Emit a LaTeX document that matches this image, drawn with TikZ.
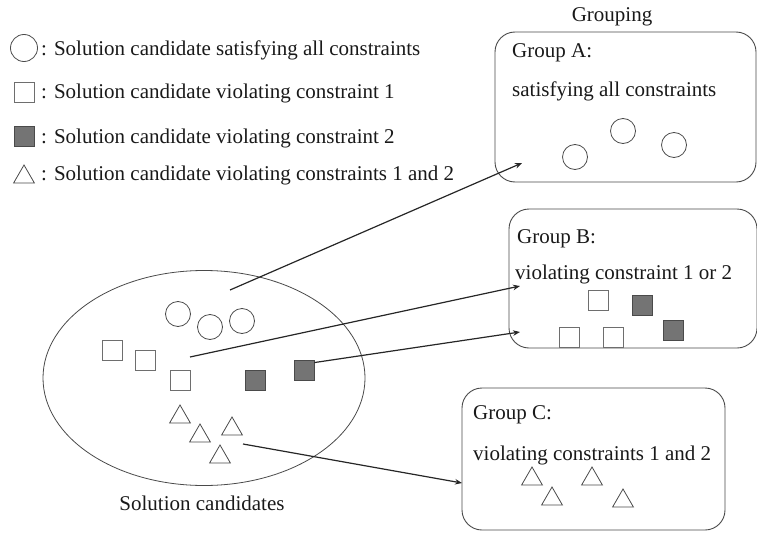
\documentclass[tikz,border=0pt]{standalone}
\usepackage{fontspec}
\setmainfont{Liberation Serif}
\usetikzlibrary{shapes.geometric,arrows.meta}
\definecolor{ln}{HTML}{4A4A4A}
\definecolor{fillg}{HTML}{747474}
\tikzset{
  txt/.style={anchor=base west,inner sep=0pt,font=\fontsize{21}{24}\selectfont,text=black!90},
  circ/.style={circle,draw=ln,line width=0.8pt,minimum size=25pt,inner sep=0pt},
  sq/.style={rectangle,draw=ln!80,line width=0.9pt,minimum size=20pt,inner sep=0pt,fill=white},
  fsq/.style={rectangle,draw=ln,line width=0.9pt,minimum size=20pt,inner sep=0pt,fill=fillg},
  tri/.style={regular polygon,regular polygon sides=3,draw=ln,line width=0.8pt,minimum size=24pt,inner sep=0pt},
  grp/.style={draw=ln,line width=0.9pt,rounded corners=20pt},
  arr/.style={draw=black!85,line width=1.2pt,-{Stealth[length=7pt,width=5.5pt]}}
}
\begin{document}
\begin{tikzpicture}[x=1pt,y=-1pt]
\useasboundingbox (0,0) rectangle (757,535);
% legend
\node[circ,minimum width=24pt,minimum height=27pt] (lc) at (24,48) {};
\node[txt] (lt1) at (41,56) {: Solution candidate satisfying all constraints};
\node[sq] (ls) at (24,92) {};
\node[txt] (lt2) at (41,98) {: Solution candidate violating constraint 1};
\node[fsq] (lf) at (24,136) {};
\node[txt] (lt3) at (41,143) {: Solution candidate violating constraint 2};
\node[tri] (lr) at (24,177) {};
\node[txt] (lt4) at (41,180) {: Solution candidate violating constraints 1 and 2};
% grouping title
\node[txt,anchor=base] (gt) at (612,22) {Grouping};
% Group A
\draw[grp] (495,32) rectangle (756,182);
\node[txt] (ga1) at (512,57) {Group A:};
\node[txt] (ga2) at (512,96) {satisfying all constraints};
\node[circ] (a1) at (575,157) {};
\node[circ] (a2) at (623,131) {};
\node[circ] (a3) at (674,145) {};
% Group B
\draw[grp] (509,209) rectangle (757,348);
\node[txt] (gb1) at (517,243) {Group B:};
\node[txt] (gb2) at (515,279) {violating constraint 1 or 2};
\node[sq] (b1) at (598,300) {};
\node[fsq] (b2) at (642,305) {};
\node[sq] (b3) at (569,337) {};
\node[sq] (b4) at (613,337) {};
\node[fsq] (b5) at (673,330) {};
% Group C
\draw[grp] (462,388) rectangle (725,530);
\node[txt] (gc1) at (473,419) {Group C:};
\node[txt] (gc2) at (473,460) {violating constraints 1 and 2};
\node[tri] (c1) at (532,479) {};
\node[tri] (c2) at (552,499) {};
\node[tri] (c3) at (592,479) {};
\node[tri] (c4) at (623,501) {};
% ellipse
\draw[ln,line width=0.8pt] (204,378) ellipse [x radius=161,y radius=107.5];
\node[txt,anchor=base] (sc) at (202,510) {Solution candidates};
\node[circ] (e1) at (178,314) {};
\node[circ] (e2) at (210,327) {};
\node[circ] (e3) at (242,321) {};
\node[sq] (e4) at (112,350) {};
\node[sq] (e5) at (145,360) {};
\node[sq] (e6) at (180,380) {};
\node[fsq] (e7) at (255,380) {};
\node[fsq] (e8) at (304,370) {};
\node[tri] (e9) at (180,417) {};
\node[tri] (e10) at (200,436) {};
\node[tri] (e11) at (232,429) {};
\node[tri] (e12) at (220,457) {};
% arrows
\coordinate (sA) at (230,290);
\coordinate (tA) at (522,163);
\coordinate (sB1) at (190,357);
\coordinate (tB1) at (520,286);
\coordinate (tB2) at (520,332);
\coordinate (sC) at (243,444);
\coordinate (tC) at (462,483);
\draw[arr] (sA) -- (tA);
\draw[arr] (sB1) -- (tB1);
\draw[arr] (e8.north east) ++(0,3) -- (tB2);
\draw[arr] (sC) -- (tC);
\end{tikzpicture}
\end{document}
